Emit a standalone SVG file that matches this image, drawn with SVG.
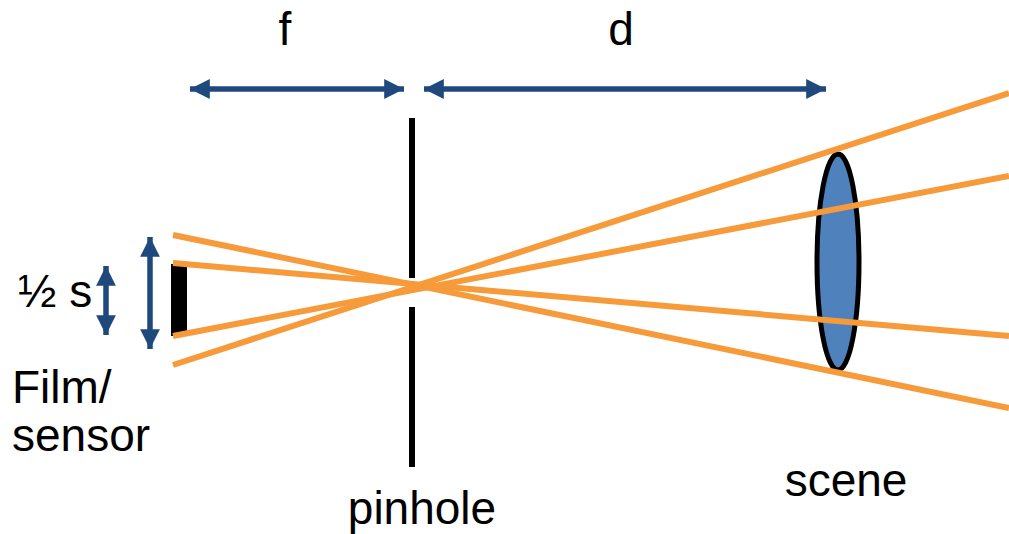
<svg xmlns="http://www.w3.org/2000/svg" width="1009" height="534" viewBox="0 0 1009 534">
<style>
text{font-family:"Liberation Sans",Arial,sans-serif;font-size:46px;fill:#000}
.ray{stroke:#F79A3A;stroke-width:6;fill:none}
.dim{stroke:#1F497D;stroke-width:5.5;fill:none}
</style>
<defs>
<marker id="ah" viewBox="0 0 10 10" refX="10" refY="5" markerWidth="3.6" markerHeight="3.6" orient="auto-start-reverse" markerUnits="strokeWidth">
<path d="M0,0 L10,5 L0,10 z" fill="#1F497D"/>
</marker>
</defs>
<rect width="1009" height="534" fill="#fff"/>
<g id="scene">
<ellipse cx="838" cy="262" rx="21" ry="108" fill="#4F81BD" stroke="#000" stroke-width="5"/>
</g>
<g id="film">
<rect x="171" y="264" width="16" height="72" fill="#000"/>
</g>
<g id="pinhole">
<rect x="409" y="118" width="6" height="160" fill="#000"/>
<rect x="409" y="307" width="6" height="160" fill="#000"/>
</g>
<g id="connectors">
<line class="ray" x1="173" y1="235" x2="1009" y2="408"/>
<line class="ray" x1="173" y1="263" x2="1009" y2="336"/>
<line class="ray" x1="173" y1="336" x2="1009" y2="176"/>
<line class="ray" x1="173" y1="365" x2="1009" y2="93"/>
<line class="dim" x1="190" y1="89" x2="404" y2="89" marker-start="url(#ah)" marker-end="url(#ah)"/>
<line class="dim" x1="424" y1="89" x2="826" y2="89" marker-start="url(#ah)" marker-end="url(#ah)"/>
<line class="dim" x1="150" y1="237" x2="150" y2="349" marker-start="url(#ah)" marker-end="url(#ah)"/>
<line class="dim" x1="106" y1="266" x2="106" y2="335" marker-start="url(#ah)" marker-end="url(#ah)"/>
</g>
<g id="labels">
<text x="285" y="45" text-anchor="middle">f</text>
<text x="621" y="45" text-anchor="middle">d</text>
<text x="18" y="307">½ s</text>
<text x="12" y="403">Film/</text>
<text x="12" y="451">sensor</text>
<text x="422" y="524" text-anchor="middle">pinhole</text>
<text x="846" y="496" text-anchor="middle">scene</text>
</g>
</svg>
